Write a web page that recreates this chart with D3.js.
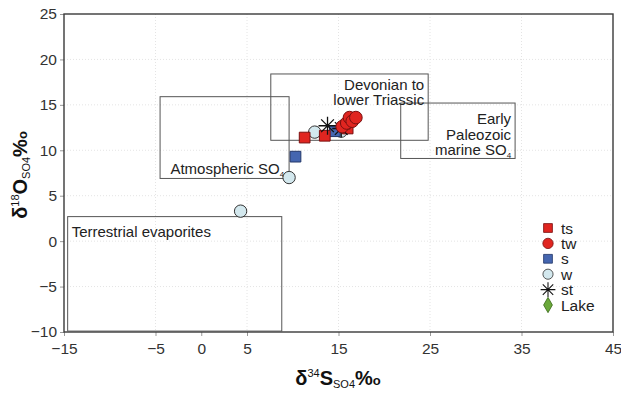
<!DOCTYPE html>
<html>
<head>
<meta charset="utf-8">
<script src="https://cdn.jsdelivr.net/npm/d3@7"></script>
<style>
  body { margin: 0; background: #fff; }
  text { font-family: "Liberation Sans", Arial, sans-serif; }
</style>
</head>
<body>
<svg id="chart" width="621" height="393"></svg>
<script>
/* data: [d34S, d18O] */
var ts = [[11.3, 11.4], [13.5, 11.6], [16.0, 12.4]];
var tw = [[15.4, 12.6], [15.9, 13.0], [16.2, 13.6], [16.5, 13.2], [16.9, 13.6]];
var s  = [[10.3, 9.3], [14.6, 12.1]];
var w  = [[4.3, 3.3], [9.6, 7.0], [12.4, 12.0], [15.3, 12.1]];
var st = [[13.8, 12.7], [15.3, 12.4]];
var lake = [];

var xTicks = [-15, -5, 0, 5, 15, 25, 35, 45];
var yTicks = [25, 20, 15, 10, 5, 0, -5, -10];
var gridX = [-5, 5, 15, 25, 35];

/* source fields: x range, y range, label lines */
var fields = [
  { name: "terr", x: [-14.6, 8.8], y: [-9.9, 2.7], lines: ["Terrestrial evaporites"] },
  { name: "atm", x: [-4.5, 9.6], y: [6.9, 15.9], lines: ["Atmospheric SO|4"] },
  { name: "dev", x: [7.6, 24.8], y: [11.1, 18.4], lines: ["Devonian to", "lower Triassic"] },
  { name: "pal", x: [21.8, 34.3], y: [9.1, 15.2], lines: ["Early", "Paleozoic", "marine SO|4"] }
];

var legendItems = ["ts", "tw", "s", "w", "st", "Lake"];

var margin = { top: 14, left: 64, right: 8, bottom: 61 },
    width = 621, height = 393,
    innerW = width - margin.left - margin.right,
    innerH = height - margin.top - margin.bottom;

var x = d3.scaleLinear().domain([-15, 45]).range([0, innerW]);
var y = d3.scaleLinear().domain([-10, 25]).range([innerH, 0]);

var svg = d3.select("#chart");
var g = svg.append("g").attr("transform", "translate(" + margin.left + "," + margin.top + ")");

// faint dotted grid
g.selectAll(".gx").data(gridX).enter().append("line")
  .attr("x1", d => x(d)).attr("x2", d => x(d))
  .attr("y1", 0).attr("y2", innerH)
  .attr("stroke", "#e4e4e4").attr("stroke-dasharray", "1,2");
g.selectAll(".gy").data([20, 15, 10, 5, 0, -5]).enter().append("line")
  .attr("x1", 0).attr("x2", innerW)
  .attr("y1", d => y(d)).attr("y2", d => y(d))
  .attr("stroke", "#e4e4e4").attr("stroke-dasharray", "1,2");

// axes
var xAxis = d3.axisBottom(x).tickValues(xTicks).tickSize(4).tickFormat(d3.format("d"));
var yAxis = d3.axisLeft(y).tickValues(yTicks).tickSize(4).tickFormat(d3.format("d"));

var xg = g.append("g").attr("transform", "translate(0," + innerH + ")").call(xAxis);
var yg = g.append("g").call(yAxis);
[xg, yg].forEach(function(a) {
  a.select(".domain").remove();
  a.selectAll(".tick line").attr("stroke", "#999");
  a.selectAll(".tick text").attr("fill", "#333").style("font-size", "15.5px")
    .style("font-family", "Liberation Sans, Arial, sans-serif");
});
xg.selectAll(".tick text").attr("dy", "0.95em");
yg.selectAll(".tick text").attr("x", -7);

// frame
g.append("rect").attr("x", 0).attr("y", 0).attr("width", innerW).attr("height", innerH)
  .attr("fill", "none").attr("stroke", "#3a3a3a").attr("stroke-width", 1.4);

// field boxes
function subText(sel, str) {
  var parts = str.split("|");
  sel.append("tspan").text(parts[0]);
  if (parts[1]) sel.append("tspan").attr("dy", 3).style("font-size", "8px").text(parts[1]);
}

fields.forEach(function(f) {
  g.append("rect")
    .attr("x", x(f.x[0])).attr("y", y(f.y[1]))
    .attr("width", x(f.x[1]) - x(f.x[0]))
    .attr("height", y(f.y[0]) - y(f.y[1]))
    .attr("fill", "none").attr("stroke", "#555").attr("stroke-width", 1);
});

function label(tx, ty, anchor, lines) {
  lines.forEach(function(l, i) {
    var t = g.append("text").attr("x", tx).attr("y", ty + i * 15.5)
      .attr("text-anchor", anchor).attr("fill", "#222").style("font-size", "15px");
    subText(t, l);
  });
}
var terr = fields[0], atm = fields[1], dev = fields[2], pal = fields[3];
label(x(terr.x[0]) + 4, y(terr.y[1]) + 20, "start", terr.lines);
label(x(atm.x[1]) - 5, y(atm.y[0]) - 4, "end", atm.lines);
label(x(dev.x[1]) - 4, y(dev.y[1]) + 16, "end", dev.lines);
label(x(pal.x[1]) - 4, y(pal.y[1]) + 21, "end", pal.lines);

// symbols
var styles = {
  ts: { shape: d3.symbolSquare, size: 115, fill: "#e02520", stroke: "#7a1010" },
  tw: { shape: d3.symbolCircle, size: 125, fill: "#e02520", stroke: "#7a1010" },
  s:  { shape: d3.symbolSquare, size: 115, fill: "#4566b0", stroke: "#23376a" },
  w:  { shape: d3.symbolCircle, size: 120, fill: "#d3e8ee", stroke: "#333" },
  st: { shape: null, size: 9, fill: "none", stroke: "#111" },
  Lake: { shape: d3.symbolDiamond, size: 100, fill: "#6aa83a", stroke: "#3a6a1a" }
};

function starPath(r) {
  var p = "";
  [0, 45, 90, 135].forEach(function(a) {
    var rad = a * Math.PI / 180, dx = r * Math.cos(rad), dy = r * Math.sin(rad);
    p += "M" + (-dx) + "," + (-dy) + "L" + dx + "," + dy;
  });
  return p;
}

function drawSymbol(sel, key) {
  var st0 = styles[key];
  if (key === "st") {
    sel.append("path").attr("d", starPath(st0.size))
      .attr("stroke", st0.stroke).attr("stroke-width", 1.3).attr("fill", "none");
  } else {
    sel.append("path").attr("d", d3.symbol().type(st0.shape).size(st0.size)())
      .attr("fill", st0.fill).attr("stroke", st0.stroke).attr("stroke-width", 1);
  }
}

var series = [["w", w], ["s", s], ["ts", ts], ["st", st], ["tw", tw], ["Lake", lake]];
series.forEach(function(sr) {
  g.selectAll(".p-" + sr[0]).data(sr[1]).enter().append("g")
    .attr("class", "p-" + sr[0])
    .attr("transform", d => "translate(" + x(d[0]) + "," + y(d[1]) + ")")
    .each(function() { drawSymbol(d3.select(this), sr[0]); });
});

// legend
var lg = svg.append("g").attr("transform", "translate(548,228)");
legendItems.forEach(function(k, i) {
  var row = lg.append("g").attr("transform", "translate(0," + i * 15.4 + ")");
  var sym = row.append("g");
  drawSymbol(sym, k);
  sym.attr("transform", "scale(0.82)");
  row.append("text").attr("x", 13).attr("y", 5.5).attr("fill", "#222")
    .style("font-size", "15.5px").text(k);
});

// axis titles
var xt = svg.append("text").attr("x", 338).attr("y", 385).attr("text-anchor", "middle")
  .attr("fill", "#111").style("font-weight", "bold").style("font-size", "20px");
xt.append("tspan").text("δ");
xt.append("tspan").attr("dy", -8).style("font-size", "11px").style("font-weight", "normal").text("34");
xt.append("tspan").attr("dy", 8).text("S");
xt.append("tspan").attr("dy", 3).style("font-size", "11px").style("font-weight", "normal").text("SO4");
xt.append("tspan").attr("dy", -3).text("%");
xt.append("tspan").style("font-size", "13px").text("o");

var yt = svg.append("text").attr("transform", "translate(27,175) rotate(-90)").attr("text-anchor", "middle")
  .attr("fill", "#111").style("font-weight", "bold").style("font-size", "20px");
yt.append("tspan").text("δ");
yt.append("tspan").attr("dy", -8).style("font-size", "11px").style("font-weight", "normal").text("18");
yt.append("tspan").attr("dy", 8).text("O");
yt.append("tspan").attr("dy", 3).style("font-size", "11px").style("font-weight", "normal").text("SO4");
yt.append("tspan").attr("dy", -3).text("%");
yt.append("tspan").style("font-size", "13px").text("o");
</script>
</body>
</html>
